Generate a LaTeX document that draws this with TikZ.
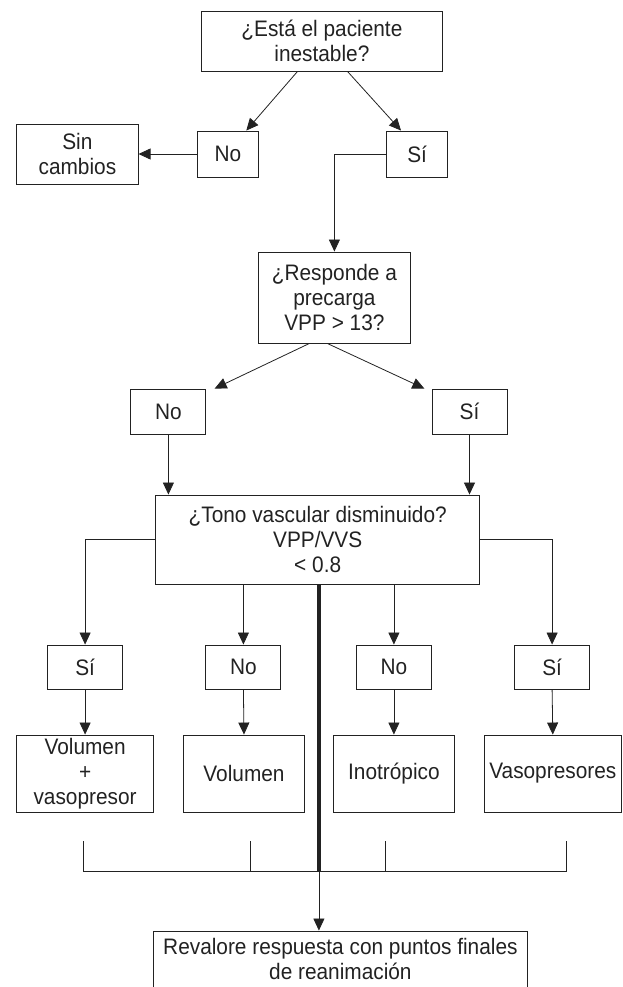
\documentclass[tikz,border=0pt]{standalone}
\usepackage{fontspec}
\setmainfont{Liberation Sans}[FakeStretch=0.93]
\usetikzlibrary{arrows.meta,calc}
\definecolor{ink}{HTML}{222222}
\begin{document}
\begin{tikzpicture}[x=1pt,y=-1pt,
  box/.style={draw=ink,line width=0.9pt,inner sep=0pt,align=center,
              font=\fontsize{22.4}{25}\selectfont,text=ink},
  conn/.style={draw=ink,line width=0.8pt},
  arr/.style={conn,-{Triangle[length=12pt,width=11pt]}},
  thick line/.style={draw=ink,line width=4pt}
]
\useasboundingbox (0,0) rectangle (622,987);

% level 1
\node[box,minimum width=241.6pt,minimum height=60pt] (q1) at (321.9,41) {¿Está el paciente\\inestable?};
\node[box,minimum width=60.7pt,minimum height=46pt] (no1) at (227.9,154) {No};
\node[box,minimum width=60.7pt,minimum height=46pt] (si1) at (417.1,154) {Sí};
\node[box,minimum width=121.4pt,minimum height=60pt] (sin) at (77.4,154) {Sin\\cambios};

% level 2
\node[box,minimum width=152.3pt,minimum height=91pt] (q2) at (334.4,297.5) {¿Responde a\\precarga\\VPP > 13?};
\node[box,minimum width=75pt,minimum height=45pt] (no2) at (168.4,411.5) {No};
\node[box,minimum width=75pt,minimum height=45pt] (si2) at (469.5,411.5) {Sí};

% level 3
\node[box,minimum width=323.7pt,minimum height=89pt] (q3) at (317.7,539.5) {¿Tono vascular disminuido?\\VPP/VVS\\< 0.8};
\node[box,minimum width=75pt,minimum height=44pt] (a1) at (85.1,667) {Sí};
\node[box,minimum width=75pt,minimum height=44pt] (a2) at (243.4,667) {No};
\node[box,minimum width=75pt,minimum height=44pt] (a3) at (393.9,667) {No};
\node[box,minimum width=75pt,minimum height=44pt] (a4) at (552.1,667) {Sí};

\node[box,minimum width=136.9pt,minimum height=77pt] (r1) at (85.1,773.5) {Volumen\\+\\vasopresor};
\node[box,minimum width=121.4pt,minimum height=77pt] (r2) at (244,773.5) {Volumen};
\node[box,minimum width=121.4pt,minimum height=77pt] (r3) at (393.9,773.5) {Inotrópico};
\node[box,minimum width=136.9pt,minimum height=77pt] (r4) at (552.8,773.5) {Vasopresores};

\node[box,minimum width=373.7pt,minimum height=56pt] (fin) at (340.4,959) {Revalore respuesta con puntos finales\\de reanimación};

% bracket coordinates
\coordinate (j) at (318.9,871);
\coordinate (b1) at (83.3,841);
\coordinate (b2) at (249.9,841);
\coordinate (b3) at (385.6,841);
\coordinate (b4) at (566.4,841);

% connectors level 1
\draw[arr] ($(q1.south)+(-24.4,0)$) -- ($(no1.north)+(18.4,0)$);
\draw[arr] ($(q1.south)+(25.6,0)$) -- ($(si1.north)+(-16.1,0)$);
\draw[arr] (no1.west) -- (sin.east);
\draw[arr] (si1.west) -| (q2.north);

% connectors level 2
\draw[arr] ($(q2.south)+(-25,0)$) -- ($(no2.north east)+(8.3,0)$);
\draw[arr] ($(q2.south)+(-7.1,0)$) -- ($(si2.north west)+(-7.2,0)$);
\draw[arr] (no2.south) -- (no2.south |- q3.north);
\draw[arr] (si2.south) -- (si2.south |- q3.north);

% connectors level 3
\draw[arr] (q3.west) -| (a1.north);
\draw[arr] (q3.east) -| (a4.north);
\draw[arr] (a2.north |- q3.south) -- (a2.north);
\draw[arr] (a3.north |- q3.south) -- (a3.north);
\draw[arr] (a1.south) -- (r1.north);
\draw[arr] (a2.south) -- (r2.north);
\draw[arr] (a3.south) -- (r3.north);
\draw[arr] (a4.south) -- (r4.north);

% bracket and thick line
\draw[conn] (b1) -- (b1 |- j) -- (b4 |- j) -- (b4);
\draw[conn] (b2) -- (b2 |- j);
\draw[conn] (b3) -- (b3 |- j);
\draw[thick line] (q3.south -| j) -- (j);
\draw[arr] (j) -- (j |- fin.north);
\end{tikzpicture}
\end{document}
